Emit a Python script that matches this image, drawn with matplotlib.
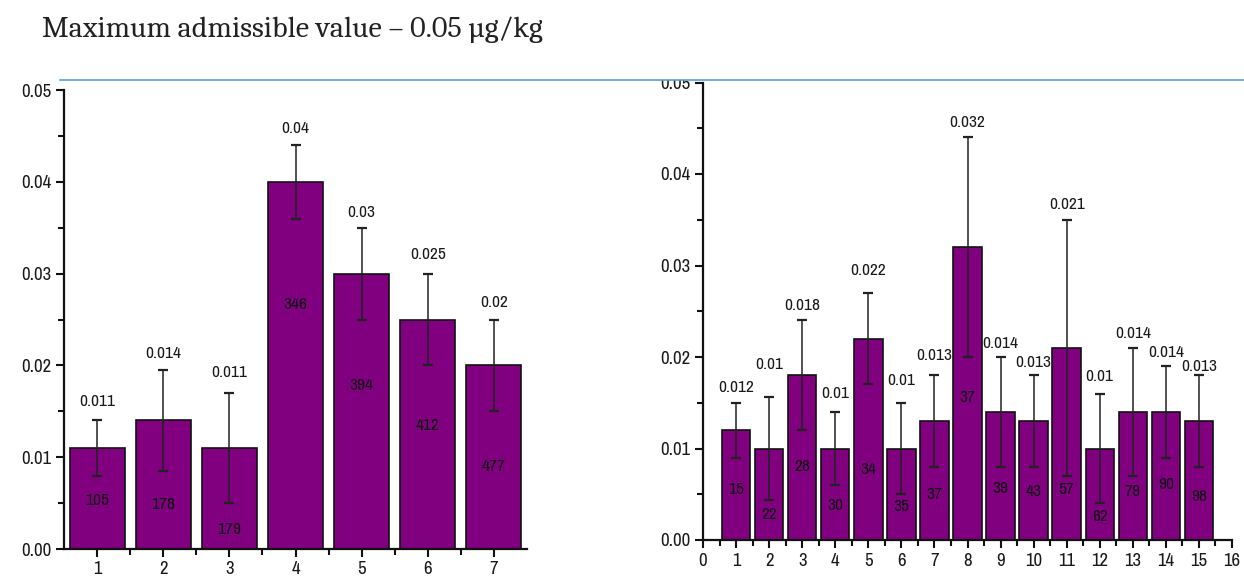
import matplotlib
matplotlib.use("Agg")
import matplotlib.pyplot as plt
from matplotlib.ticker import MultipleLocator, FormatStrFormatter
from matplotlib.patches import Rectangle
from matplotlib.lines import Line2D
from matplotlib import font_manager

# ---------------- data ----------------
title = "Maximum admissible value \u2013 0.05 \u00b5g/kg"

left_x = [1, 2, 3, 4, 5, 6, 7]
left_vals = [0.011, 0.014, 0.011, 0.04, 0.03, 0.025, 0.02]
left_err = [0.003, 0.0055, 0.006, 0.004, 0.005, 0.005, 0.005]
left_labels = ["0.011", "0.014", "0.011", "0.04", "0.03", "0.025", "0.02"]
left_label_y = [0.0161, 0.0213, 0.0192, 0.0458, 0.0367, 0.0321, 0.0268]
left_n = ["105", "178", "179", "346", "394", "412", "477"]
left_n_y = [0.0053, 0.0049, 0.0021, 0.0266, 0.0178, 0.0134, 0.0090]

right_x = list(range(1, 16))
right_vals = [0.012, 0.01, 0.018, 0.01, 0.022, 0.01, 0.013, 0.032,
              0.014, 0.013, 0.021, 0.01, 0.014, 0.014, 0.013]
right_err = [0.003, 0.0056, 0.006, 0.004, 0.005, 0.005, 0.005, 0.012,
             0.006, 0.005, 0.014, 0.006, 0.007, 0.005, 0.005]
right_labels = ["0.012", "0.01", "0.018", "0.01", "0.022", "0.01", "0.013", "0.032",
                "0.014", "0.013", "0.021", "0.01", "0.014", "0.014", "0.013"]
right_label_y = [0.0167, 0.0192, 0.0256, 0.0160, 0.0294, 0.0174, 0.0202, 0.0456,
                 0.0215, 0.0194, 0.0367, 0.0179, 0.0226, 0.0205, 0.0190]
right_n = ["15", "22", "28", "30", "34", "35", "37", "37",
           "39", "43", "57", "62", "79", "90", "98"]
right_n_y = [0.0055, 0.0028, 0.0080, 0.0038, 0.0077, 0.0037, 0.0050, 0.0156,
             0.0056, 0.0053, 0.0055, 0.0026, 0.0053, 0.0061, 0.0047]

# ---------------- fonts ----------------
names = {f.name for f in font_manager.fontManager.ttflist}


def pick(cands, default):
    for c in cands:
        if c in names:
            return c
    return default


narrow = pick(["Liberation Sans Narrow", "Arial Narrow", "Archivo Narrow", "Pragati Narrow",
               "Roboto Condensed", "PT Sans Narrow", "IBM Plex Sans Condensed",
               "Fira Sans Condensed", "Asap Condensed"], "Liberation Sans")
serif = pick(["Caladea", "Cambria", "Liberation Serif"], "DejaVu Serif")
title_size = 21.7 if serif in ("Caladea", "Cambria") else 22

BAR = "#800080"
TXT = "#1a1a1a"

W, H = 1244, 579
fig = plt.figure(figsize=(W / 100, H / 100), dpi=100)


def px_axes(x0, x1, ytop, ybot):
    return fig.add_axes([x0 / W, (H - ybot) / H, (x1 - x0) / W, (ybot - ytop) / H])


def style(ax, xlim, xticks, xminor):
    ax.set_ylim(0, 0.05)
    ax.set_xlim(*xlim)
    for s in ("top", "right"):
        ax.spines[s].set_visible(False)
    for s in ("left", "bottom"):
        ax.spines[s].set_linewidth(1.6)
        ax.spines[s].set_color("#111111")
    ax.yaxis.set_major_locator(MultipleLocator(0.01))
    ax.yaxis.set_minor_locator(MultipleLocator(0.005))
    ax.yaxis.set_major_formatter(FormatStrFormatter("%.2f"))
    ax.set_xticks(xticks)
    ax.set_xticks(xminor, minor=True)
    ax.tick_params(axis="both", which="major", direction="out", length=6, width=1.5,
                   labelsize=13.5, colors="#111111", labelcolor=TXT, pad=3)
    ax.tick_params(axis="both", which="minor", direction="out", length=4, width=1.5,
                   colors="#111111")
    for lab in ax.get_xticklabels() + ax.get_yticklabels():
        lab.set_fontfamily(narrow)


def draw(ax, xs, vals, errs, labels, label_y, ns, n_y, width):
    ax.bar(xs, vals, width=width, color=BAR, edgecolor="#111111", linewidth=1.2, zorder=2)
    ax.errorbar(xs, vals, yerr=errs, fmt="none", ecolor="#222222", elinewidth=1.1,
                capsize=3.5, capthick=1.6, zorder=3)
    for x, lab, ly in zip(xs, labels, label_y):
        ax.text(x, ly, lab, ha="center", va="center", fontsize=12.5,
                family=narrow, color=TXT, zorder=4)
    for x, n, ny in zip(xs, ns, n_y):
        ax.text(x, ny, n, ha="center", va="center", fontsize=12.5,
                family=narrow, color="#111111", zorder=4)


ax1 = px_axes(64, 527, 90, 549)
style(ax1, (0.5, 7.5), left_x, [x + 0.5 for x in left_x[:-1]])
draw(ax1, left_x, left_vals, left_err, left_labels, left_label_y, left_n, left_n_y, 0.83)

ax2 = px_axes(703, 1232, 82.5, 540)
style(ax2, (0, 16), list(range(0, 17)), [x + 0.5 for x in range(0, 16)])
draw(ax2, right_x, right_vals, right_err, right_labels,
     right_label_y, right_n, right_n_y, 0.86)

# white mask over the top part of the cropped label of the right chart
fig.patches.append(Rectangle((640 / W, (H - 80) / H), 120 / W, 80 / H,
                             transform=fig.transFigure, facecolor="white",
                             edgecolor="none", zorder=10))

# blue horizontal line
fig.add_artist(Line2D([60 / W, 1.0], [(H - 80) / H, (H - 80) / H],
                      transform=fig.transFigure, color="#5b9bd5", linewidth=1.2, zorder=11))

fig.text(42 / W, (H - 30) / H, title, ha="left", va="center", fontsize=title_size,
         family=serif, color="#222222", zorder=12)

fig.savefig("out.png", dpi=100)
